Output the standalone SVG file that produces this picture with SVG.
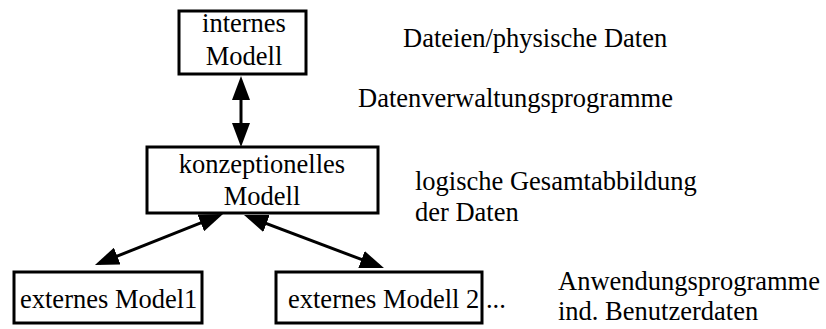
<svg xmlns="http://www.w3.org/2000/svg" width="826" height="329" viewBox="0 0 826 329">
  <style>
    .box { fill: #ffffff; stroke: #000000; stroke-width: 3; }
    .lbl { font-family: "Liberation Serif", "Times New Roman", serif; font-size: 26.5px; fill: #000000; }
    .mid { text-anchor: middle; }
    .conn { stroke: #000000; stroke-width: 3; fill: none; marker-start: url(#head); marker-end: url(#head); }
  </style>
  <defs>
    <marker id="head" viewBox="0 0 24 18" refX="19" refY="9" markerWidth="24" markerHeight="18" markerUnits="userSpaceOnUse" orient="auto-start-reverse">
      <path d="M0,0 L24,9 L0,18 z" fill="#000000"/>
    </marker>
  </defs>

  <rect width="826" height="329" fill="#ffffff"/>

  <!-- double-headed connectors between the model levels -->
  <g id="connectors">
    <line class="conn" x1="241" y1="81" x2="241" y2="142"/>
    <line class="conn" x1="218.4" y1="215.9" x2="99.6" y2="263.1"/>
    <line class="conn" x1="248.7" y1="216.8" x2="379.3" y2="266.2"/>
  </g>

  <g id="internes-modell">
    <rect class="box" x="179" y="11" width="127" height="63"/>
    <text class="lbl mid" x="244" y="32">internes</text>
    <text class="lbl mid" x="244" y="65">Modell</text>
  </g>

  <g id="konzeptionelles-modell">
    <rect class="box" x="147" y="147" width="231" height="66"/>
    <text class="lbl mid" x="262" y="173">konzeptionelles</text>
    <text class="lbl mid" x="262" y="205">Modell</text>
  </g>

  <g id="externes-modell-1">
    <rect class="box" x="14" y="272" width="188" height="51"/>
    <text class="lbl" x="20" y="308">externes Model1</text>
  </g>

  <g id="externes-modell-2">
    <rect class="box" x="276" y="272" width="206" height="51"/>
    <text class="lbl" x="288" y="308">externes Modell 2 ...</text>
  </g>

  <!-- level descriptions -->
  <g id="beschreibungen">
    <text class="lbl" x="403" y="47">Dateien/physische Daten</text>
    <text class="lbl" x="358" y="107">Datenverwaltungsprogramme</text>
    <text class="lbl" x="415" y="190">logische Gesamtabbildung</text>
    <text class="lbl" x="415" y="221">der Daten</text>
    <text class="lbl" x="558" y="290">Anwendungsprogramme</text>
    <text class="lbl" x="558" y="320">ind. Benutzerdaten</text>
  </g>
</svg>
